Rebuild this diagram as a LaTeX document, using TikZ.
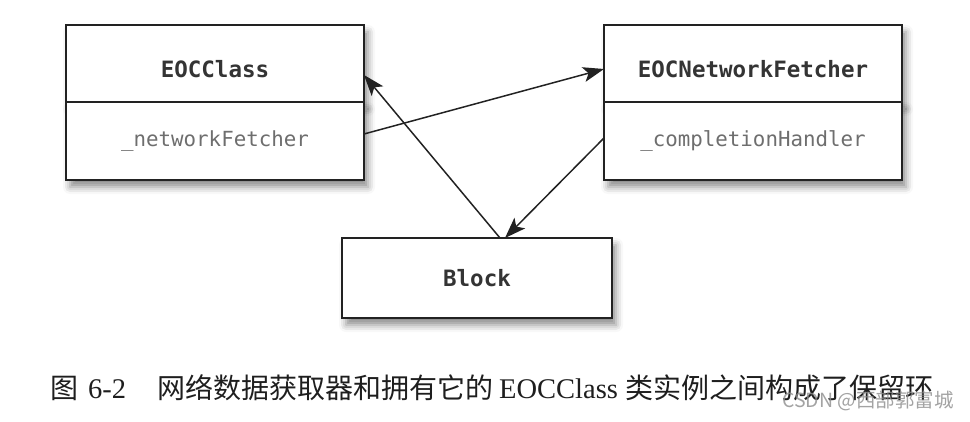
\documentclass[tikz,border=0pt]{standalone}
\usepackage{fontspec}
\setmainfont{Liberation Serif}
\setmonofont{DejaVu Sans Mono}
\newfontfamily\cjk{Noto Sans CJK SC}
\usetikzlibrary{arrows.meta,positioning,shadows.blur}
\definecolor{frame}{RGB}{34,34,34}
\definecolor{headtext}{RGB}{52,52,52}
\definecolor{fieldtext}{RGB}{110,110,110}
\definecolor{captext}{RGB}{30,30,30}

\begin{document}
\begin{tikzpicture}[
  x=1pt,y=-1pt,
  box/.style={draw=frame,fill=white,line width=1.8pt,outer sep=0pt,inner sep=0pt,
              blur shadow={shadow xshift=4pt,shadow yshift=-7pt,
                           shadow blur radius=7pt,shadow opacity=45}},
  classhead/.style={box,minimum width=298pt,minimum height=77pt,
                    text height=28pt,text depth=0pt,
                    font=\ttfamily\bfseries\fontsize{22.5}{26}\selectfont,text=headtext},
  classfield/.style={box,minimum width=298pt,minimum height=78pt,
                     font=\ttfamily\fontsize{20.8}{24}\selectfont,text=fieldtext},
  blockbox/.style={box,minimum width=270pt,minimum height=80pt,
                   font=\ttfamily\bfseries\fontsize{22.5}{26}\selectfont,text=headtext},
  link/.style={-{Stealth[length=21pt,width=15pt,inset=5pt]},frame,line width=1.5pt},
  caption/.style={font=\fontsize{28.5}{32}\selectfont,text=captext,inner sep=0pt},
  watermark/.style={font=\cjk\fontsize{19.5}{22}\selectfont,text=black!45,
                    opacity=0.8,inner sep=0pt}
]
\useasboundingbox (0,0) rectangle (970,422);

% the two classes and the block
\node[classhead] (eoc) at (215,63.5) {EOCClass};
\node[classfield,below=0pt of eoc] (eocfield) {\_networkFetcher};
\node[classhead] (fetcher) at (753,63.5) {EOCNetworkFetcher};
\node[classfield,below=0pt of fetcher] (fetcherfield) {\_completionHandler};
\node[blockbox] (block) at (477,278) {Block};

% the retain cycle
\draw[link] ([yshift=7pt]eocfield.east) -- ([yshift=-5.5pt]fetcher.west);
\draw[link] ([yshift=3pt]fetcherfield.west) -- ([xshift=28pt]block.north);
\draw[link] ([xshift=23pt]block.north) -- ([yshift=-11.5pt]eoc.east);

\node[caption,anchor=base west] (cap) at (50,398)
  {{\cjk\fontsize{28}{32}\selectfont 图}\hspace{10pt}6-2\hspace{31pt}%
   {\cjk\fontsize{28}{32}\selectfont 网络数据获取器和拥有它的}\hspace{6pt}EOCClass\hspace{8pt}%
   {\cjk\fontsize{28}{32}\selectfont 类实例之间构成了保留环}};
\node[watermark,anchor=base west] (mark) at (782,407) {CSDN @西部郭富城};
\end{tikzpicture}
\end{document}
